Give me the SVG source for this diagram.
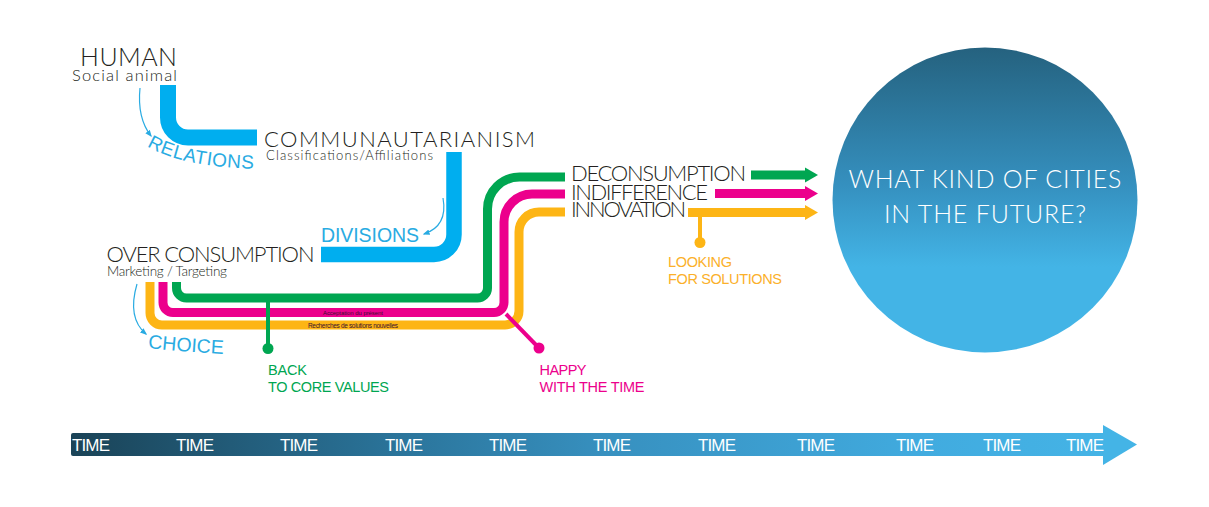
<svg xmlns="http://www.w3.org/2000/svg" width="1209" height="507" viewBox="0 0 1209 507">
<defs>
<style>
.head{font-family:Lato,"Liberation Sans",sans-serif;font-weight:300;fill:#231f20}
.sub{font-family:Lato,"Liberation Sans",sans-serif;font-weight:300;fill:#231f20}
.cy{font-family:"Liberation Sans",Arial,sans-serif;fill:#29abe2}
.lbl{font-family:"Liberation Sans",Arial,sans-serif;font-size:14.5px}
.tiny{font-family:"Liberation Sans",Arial,sans-serif;fill:#3a1030}
.time{font-family:"Liberation Sans",Arial,sans-serif;font-size:17px;fill:#ffffff}
.tube{fill:none;stroke:#00aeef;stroke-linejoin:round}
.ln{fill:none;stroke-width:9}
.g{stroke:#00a651}.m{stroke:#ec008c}.o{stroke:#fdb515}
.thin{fill:none;stroke:#29abe2;stroke-width:1.2}
</style>
<linearGradient id="barGrad" gradientUnits="userSpaceOnUse" x1="71" y1="0" x2="1137" y2="0">
<stop offset="0" stop-color="#1a4357"/>
<stop offset="0.3" stop-color="#2a7399"/>
<stop offset="0.5" stop-color="#3790bf"/>
<stop offset="0.8" stop-color="#41abdf"/>
<stop offset="1" stop-color="#45b5e7"/>
</linearGradient>
<linearGradient id="circGrad" gradientUnits="userSpaceOnUse" x1="0" y1="48" x2="0" y2="352">
<stop offset="0" stop-color="#25627f"/>
<stop offset="0.45" stop-color="#3590bf"/>
<stop offset="0.72" stop-color="#43b4e6"/>
<stop offset="1" stop-color="#43b4e6"/>
</linearGradient>
<marker id="thinArrow" viewBox="0 0 10 10" refX="8" refY="5" markerWidth="7" markerHeight="7" markerUnits="userSpaceOnUse" orient="auto">
<path d="M0 1 L10 5 L0 9 Z" fill="#29abe2"/>
</marker>
<path id="relPath" d="M 147 146 Q 183 168 264 169"/>
<path id="choicePath" d="M 148 348 Q 185 352 226 354"/>
</defs>

<g id="connectors">
<path class="tube" stroke-width="16" d="M 168 85 V 117.5 A 20 20 0 0 0 188 137.5 H 257"/>
<path class="tube" stroke-width="15.5" d="M 454 152 V 234.5 A 20 20 0 0 1 434 254.5 H 321"/>
<path class="thin" d="M 140 88 Q 137 118 151 136" marker-end="url(#thinArrow)"/>
<path class="thin" d="M 443 198 Q 448 226 424 234" marker-end="url(#thinArrow)"/>
<path class="thin" d="M 137 284 Q 127 318 146 334" marker-end="url(#thinArrow)"/>

<path class="ln o" d="M 150 282 V 313 A 12 12 0 0 0 162 325 H 505 A 14 14 0 0 0 519 311 V 232 A 20 20 0 0 1 539 212 H 565"/>
<path class="ln m" d="M 163 282 V 302.5 A 10 10 0 0 0 173 312.5 H 494 A 10 10 0 0 0 504 302.5 V 222 A 28 28 0 0 1 532 194 H 565"/>
<path class="ln g" d="M 176.5 282 V 288 A 10 10 0 0 0 186.5 298 H 477.5 A 10 10 0 0 0 487.5 288 V 209 A 32 32 0 0 1 519.5 177 H 565"/>

<path class="g" stroke-width="4" fill="none" d="M 268 298 V 348"/>
<circle cx="268" cy="348.5" r="5.5" fill="#00a651"/>
<path class="m" stroke-width="4" fill="none" d="M 506 314 L 538 347"/>
<circle cx="539" cy="348" r="5.5" fill="#ec008c"/>

<path class="ln g" stroke-width="8.5" d="M 751 175 H 806"/>
<polygon points="805,167.5 818,175 805,182.5" fill="#00a651"/>
<path class="ln m" stroke-width="8.5" d="M 715 193.5 H 806"/>
<polygon points="805,186 818,193.5 805,201" fill="#ec008c"/>
<path class="ln o" stroke-width="8.5" d="M 688 212.5 H 806"/>
<polygon points="805,205 818,212.5 805,220" fill="#fdb515"/>
<path class="o" stroke-width="4" fill="none" d="M 700 212 V 242"/>
<circle cx="700" cy="242.5" r="5.5" fill="#fdb515"/>
</g>

<g id="node-human">
<text class="head" x="80" y="66" font-size="25" textLength="97">HUMAN</text>
<text class="sub" x="72" y="80.7" font-size="16.5" textLength="105">Social animal</text>
</g>
<g id="label-relations">
<text class="cy" font-size="19" letter-spacing="0.5"><textPath href="#relPath">RELATIONS</textPath></text>
</g>
<g id="node-communautarianism">
<text class="head" x="264" y="147.3" font-size="22" textLength="271">COMMUNAUTARIANISM</text>
<text class="sub" x="266" y="159.5" font-size="13" textLength="167">Classifications/Affiliations</text>
</g>
<g id="label-divisions">
<text class="cy" x="321" y="241.7" font-size="19.5" textLength="98">DIVISIONS</text>
</g>
<g id="node-overconsumption">
<text class="head" x="106.5" y="262" font-size="22" textLength="208">OVER CONSUMPTION</text>
<text class="sub" x="107" y="276" font-size="13.5" textLength="120">Marketing / Targeting</text>
</g>
<g id="label-choice">
<text class="cy" font-size="19.5"><textPath href="#choicePath">CHOICE</textPath></text>
</g>
<g id="band-labels">
<text class="tiny" x="323" y="315" font-size="6" textLength="60">Acceptation du présent</text>
<text class="tiny" x="308" y="327.5" font-size="6.5" textLength="90">Recherches de solutions nouvelles</text>
</g>
<g id="node-back">
<text class="lbl" x="268" y="375" fill="#00a651" textLength="39">BACK</text>
<text class="lbl" x="268" y="391.5" fill="#00a651" textLength="121">TO CORE VALUES</text>
</g>
<g id="node-happy">
<text class="lbl" x="539.5" y="375" fill="#ec008c" textLength="47">HAPPY</text>
<text class="lbl" x="539.5" y="391.5" fill="#ec008c" textLength="105">WITH THE TIME</text>
</g>
<g id="node-looking">
<text class="lbl" x="668" y="267" fill="#fbb02a" textLength="64">LOOKING</text>
<text class="lbl" x="668" y="284" fill="#fbb02a" textLength="114">FOR SOLUTIONS</text>
</g>
<g id="node-deconsumption">
<text class="head" x="571" y="180.7" font-size="22" textLength="175">DECONSUMPTION</text>
</g>
<g id="node-indifference">
<text class="head" x="571" y="200" font-size="22" textLength="137">INDIFFERENCE</text>
</g>
<g id="node-innovation">
<text class="head" x="571" y="216.7" font-size="22" textLength="115">INNOVATION</text>
</g>
<g id="node-future">
<circle cx="985" cy="200" r="152.5" fill="url(#circGrad)"/>
<text x="985" y="188" font-family="Lato,'Liberation Sans',sans-serif" font-weight="300" font-size="25" fill="#ffffff" text-anchor="middle" textLength="273">WHAT KIND OF CITIES</text>
<text x="985" y="223" font-family="Lato,'Liberation Sans',sans-serif" font-weight="300" font-size="25" fill="#ffffff" text-anchor="middle" textLength="202">IN THE FUTURE?</text>
</g>
<g id="timeline">
<rect x="71" y="433" width="1034" height="23" rx="2" fill="url(#barGrad)"/>
<polygon points="1103,425 1137,444.5 1103,465" fill="#44b4e6"/>
<text class="time" x="72" y="451" textLength="38">TIME</text>
<text class="time" x="176" y="451" textLength="38">TIME</text>
<text class="time" x="280" y="451" textLength="38">TIME</text>
<text class="time" x="385" y="451" textLength="38">TIME</text>
<text class="time" x="489" y="451" textLength="38">TIME</text>
<text class="time" x="593" y="451" textLength="38">TIME</text>
<text class="time" x="698" y="451" textLength="38">TIME</text>
<text class="time" x="797" y="451" textLength="38">TIME</text>
<text class="time" x="896" y="451" textLength="38">TIME</text>
<text class="time" x="983" y="451" textLength="38">TIME</text>
<text class="time" x="1066" y="451" textLength="38">TIME</text>
</g>
</svg>
